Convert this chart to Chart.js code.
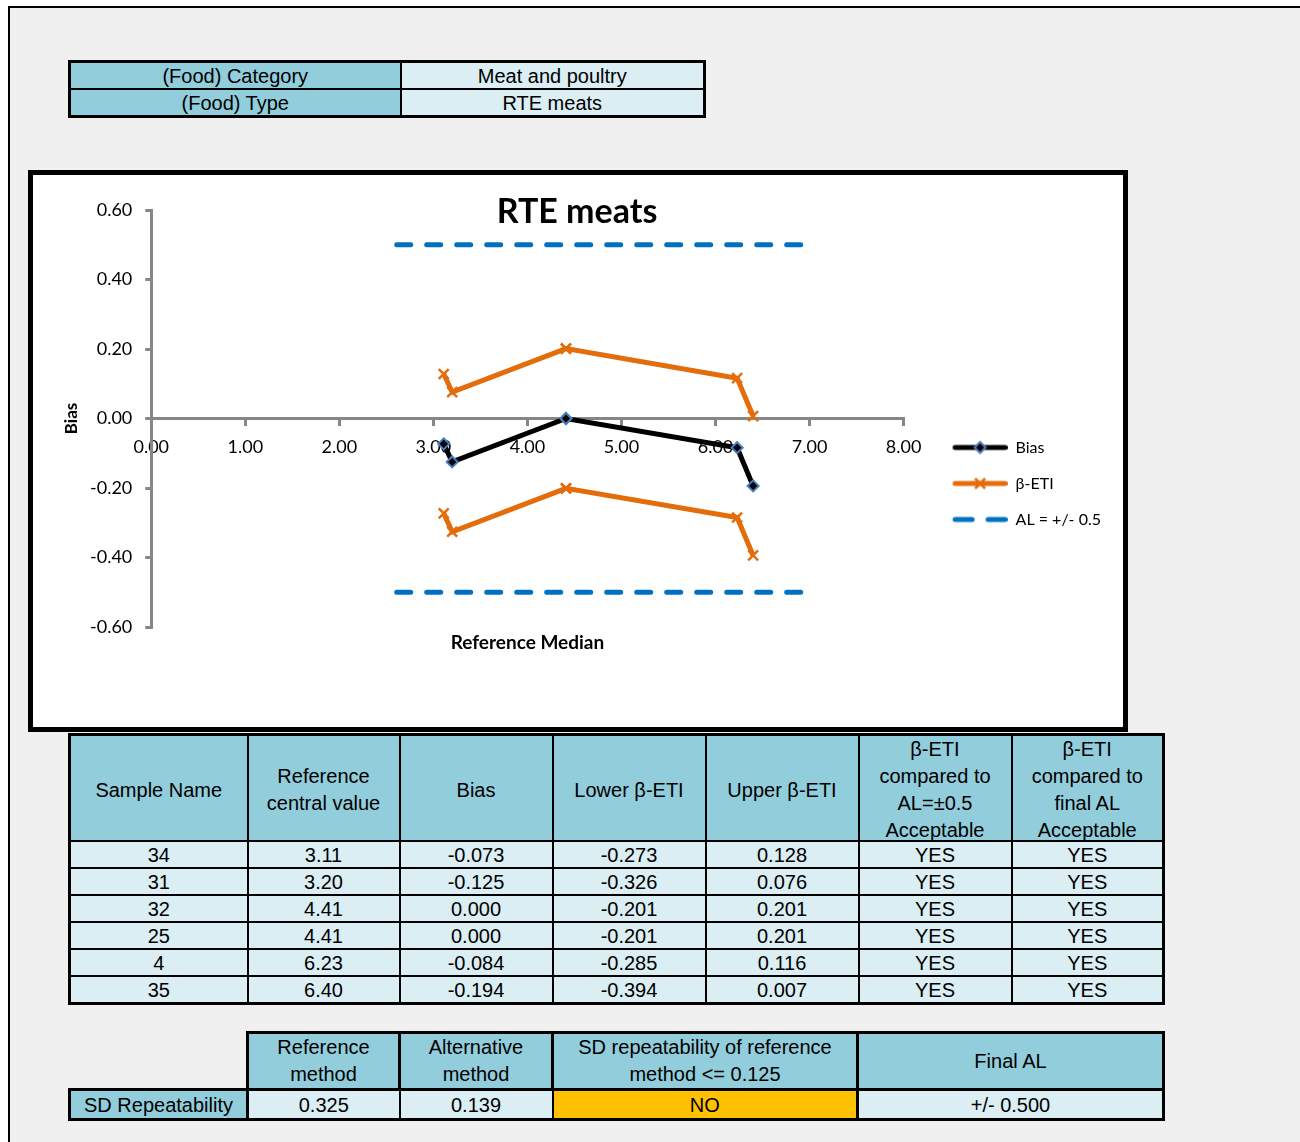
<!DOCTYPE html>
<html><head><meta charset="utf-8">
<script src="https://cdn.jsdelivr.net/npm/chart.js@4.4.1/dist/chart.umd.min.js"></script>
<style>
html,body{margin:0;padding:0;background:#fff;width:1300px;height:1142px;overflow:hidden;position:relative;font-family:"Liberation Sans",Arial,sans-serif;}
#frame{position:absolute;left:8px;top:6px;width:1300px;height:1200px;border-top:2px solid #000;border-left:2px solid #000;background:#f0f0f0;}
table{position:absolute;border-collapse:collapse;table-layout:fixed;font-size:20px;color:#000;border:3px solid #000;}
td{border:2px solid #000;text-align:center;padding:0;overflow:hidden;white-space:nowrap;line-height:22px;}
td.h{background:#92CDDC;}
td.c{background:#DAEEF3;}
td.o{background:#FFC000;}
td.e{background:transparent;border:none;}
td.w{line-height:27px;}
.hd{height:104px;display:flex;align-items:center;justify-content:center;line-height:27px;}
.hd > div{position:relative;top:2px;}
#chartBox{position:absolute;left:28px;top:170px;width:1100px;height:562px;box-sizing:border-box;border:5px solid #000;background:#fff;}
#chartWrap{position:absolute;left:0;top:0;width:1090px;height:552px;}
</style>
</head><body>
<div id="frame"></div>

<table id="infoTable" style="left:68px;top:60px;width:635px;">
<colgroup><col style="width:331px"><col style="width:304px"></colgroup>
<tbody id="infoBody"></tbody>
</table>

<div id="chartBox"><div id="chartWrap"><canvas id="chart"></canvas></div></div>

<table id="dataTable" style="left:68px;top:733px;width:1094px;">
<colgroup><col style="width:178px"><col style="width:152px"><col style="width:153px"><col style="width:153px"><col style="width:153px"><col style="width:153px"><col style="width:152px"></colgroup>
<tbody id="dataBody"></tbody>
</table>

<table id="sdTable" style="left:68px;top:1031px;width:1094px;border:none;">
<colgroup><col style="width:178px"><col style="width:152px"><col style="width:153px"><col style="width:305px"><col style="width:306px"></colgroup>
<tbody id="sdBody"></tbody>
</table>

<script>
// ---------------- data ----------------
const foodCategory = 'Meat and poultry';
const foodType = 'RTE meats';
const sampleNames = ['34', '31', '32', '25', '4', '35'];
const refValues = [3.11, 3.20, 4.41, 4.41, 6.23, 6.40];
const bias = [-0.073, -0.125, 0.000, 0.000, -0.084, -0.194];
const lowerETI = [-0.273, -0.326, -0.201, -0.201, -0.285, -0.394];
const upperETI = [0.128, 0.076, 0.201, 0.201, 0.116, 0.007];
const acceptAL = ['YES', 'YES', 'YES', 'YES', 'YES', 'YES'];
const acceptFinal = ['YES', 'YES', 'YES', 'YES', 'YES', 'YES'];
const alX = [2.61, 6.93];
const alUpper = [0.5, 0.5];
const alLower = [-0.5, -0.5];
const xRange = [0, 8];
const yRange = [-0.6, 0.6];
const headers = ['Sample Name', 'Reference<br>central value', 'Bias', 'Lower β-ETI', 'Upper β-ETI',
  'β-ETI<br>compared to<br>AL=±0.5<br>Acceptable', 'β-ETI<br>compared to<br>final AL<br>Acceptable'];
const sdHeaders = ['Reference<br>method', 'Alternative<br>method', 'SD repeatability of reference<br>method &lt;= 0.125', 'Final AL'];
const sdRow = ['SD Repeatability', '0.325', '0.139', 'NO', '+/- 0.500'];

// ---------------- tables ----------------
document.getElementById('infoBody').innerHTML =
  `<tr><td class="h" style="height:25px">(Food) Category</td><td class="c">${foodCategory}</td></tr>` +
  `<tr><td class="h" style="height:25px">(Food) Type</td><td class="c">${foodType}</td></tr>`;

let html = '<tr>' + headers.map(h => `<td class="h"><div class="hd"><div>${h}</div></div></td>`).join('') + '</tr>';
for (let i = 0; i < sampleNames.length; i++) {
  html += `<tr><td class="c" style="height:25px">${sampleNames[i]}</td><td class="c">${refValues[i].toFixed(2)}</td>` +
    `<td class="c">${bias[i].toFixed(3)}</td><td class="c">${lowerETI[i].toFixed(3)}</td>` +
    `<td class="c">${upperETI[i].toFixed(3)}</td><td class="c">${acceptAL[i]}</td><td class="c">${acceptFinal[i]}</td></tr>`;
}
document.getElementById('dataBody').innerHTML = html;

document.getElementById('sdBody').innerHTML =
  '<tr><td class="e" style="height:54px"></td>' +
  sdHeaders.map(h => `<td class="h w" style="border:3px solid #000">${h}</td>`).join('') + '</tr>' +
  `<tr><td class="h" style="height:27px;border:3px solid #000">${sdRow[0]}</td><td class="c" style="border-bottom:3px solid #000">${sdRow[1]}</td>` +
  `<td class="c" style="border-bottom:3px solid #000">${sdRow[2]}</td><td class="o" style="border-bottom:3px solid #000">${sdRow[3]}</td>` +
  `<td class="c" style="border:3px solid #000">${sdRow[4]}</td></tr>`;

// ---------------- chart ----------------
const BLACK = '#000000', ORANGE = '#E46C0A', BLUE = '#0070C0', MARKER_BLUE = '#4A7EBB', AXIS = '#868686';
const SW = 84; // legend swatch width

function swatch(kind) {
  const c = document.createElement('canvas');
  c.width = SW; c.height = 16;
  const g = c.getContext('2d');
  g.lineCap = 'round';
  g.lineWidth = 5;
  const y = 8, x0 = 31.5, x1 = SW - 2.5, xm = (29 + SW) / 2;
  if (kind === 'al') {
    g.strokeStyle = BLUE;
    g.setLineDash([17, 16]);
    g.beginPath(); g.moveTo(x0, y); g.lineTo(x1, y); g.stroke();
    return c;
  }
  g.strokeStyle = kind === 'bias' ? BLACK : ORANGE;
  g.beginPath(); g.moveTo(x0, y); g.lineTo(x1, y); g.stroke();
  if (kind === 'bias') {
    g.lineWidth = 2; g.fillStyle = BLACK; g.strokeStyle = MARKER_BLUE;
    g.beginPath(); g.moveTo(xm, y - 5.5); g.lineTo(xm + 5.5, y); g.lineTo(xm, y + 5.5); g.lineTo(xm - 5.5, y); g.closePath();
    g.fill(); g.stroke();
  } else {
    g.lineWidth = 2.5; g.lineCap = 'butt';
    g.beginPath(); g.moveTo(xm - 5, y - 5); g.lineTo(xm + 5, y + 5); g.moveTo(xm + 5, y - 5); g.lineTo(xm - 5, y + 5); g.stroke();
  }
  return c;
}
const swatches = [swatch('bias'), swatch('eti'), swatch('al')];

const pts = (xs, ys) => xs.map((x, i) => ({x, y: ys[i]}));
const fmt = v => (Math.abs(v) < 1e-9 ? 0 : v).toFixed(2);

Chart.defaults.font.family = 'Lato';
Chart.defaults.color = '#000';

new Chart(document.getElementById('chart'), {
  type: 'scatter',
  data: {
    datasets: [
      {label: 'Bias', data: pts(refValues, bias), showLine: true, borderColor: BLACK, borderWidth: 5,
       pointStyle: 'rectRot', pointRadius: 5.5, pointBackgroundColor: BLACK, pointBorderColor: MARKER_BLUE, pointBorderWidth: 2,
       legendIdx: 0},
      {label: 'β-ETI', data: pts(refValues, upperETI), showLine: true, borderColor: ORANGE, borderWidth: 5,
       pointStyle: 'crossRot', pointRadius: 7, pointBorderColor: ORANGE, pointBorderWidth: 2.5, legendIdx: 1},
      {label: 'β-ETI lower', data: pts(refValues, lowerETI), showLine: true, borderColor: ORANGE, borderWidth: 5,
       pointStyle: 'crossRot', pointRadius: 7, pointBorderColor: ORANGE, pointBorderWidth: 2.5},
      {label: 'AL = +/- 0.5', data: pts(alX, alUpper), showLine: true, borderColor: BLUE, borderWidth: 5,
       borderDash: [14, 16], borderCapStyle: 'round', pointRadius: 0, legendIdx: 2},
      {label: 'AL lower', data: pts(alX, alLower), showLine: true, borderColor: BLUE, borderWidth: 5,
       borderDash: [14, 16], borderCapStyle: 'round', pointRadius: 0}
    ]
  },
  options: {
    responsive: true, maintainAspectRatio: false, animation: false, devicePixelRatio: 1,
    layout: {padding: {left: 10, right: 12, top: 8, bottom: 30}},
    scales: {
      x: {
        type: 'linear', min: xRange[0], max: xRange[1], position: {y: 0},
        ticks: {stepSize: 1, callback: fmt, padding: 12, font: {size: 18}, maxRotation: 0},
        grid: {drawOnChartArea: false, drawTicks: true, tickLength: 6, color: AXIS, lineWidth: 3},
        border: {display: true, color: AXIS, width: 3}
      },
      x2: {
        type: 'linear', min: xRange[0], max: xRange[1], position: 'bottom',
        ticks: {display: false}, grid: {display: false}, border: {display: false},
        title: {display: true, text: 'Reference Median', font: {size: 19, weight: 'bold'}, padding: {top: -3.4, bottom: 42.6}}
      },
      y: {
        type: 'linear', min: yRange[0], max: yRange[1], position: 'left',
        ticks: {stepSize: 0.2, callback: fmt, padding: 13, font: {size: 18}},
        grid: {drawOnChartArea: false, drawTicks: true, tickLength: 6, color: AXIS, lineWidth: 3},
        border: {display: true, color: AXIS, width: 3},
        title: {display: true, text: 'Bias', font: {size: 17, weight: 'bold'}, padding: {top: 18.8, bottom: -5.2}}
      }
    },
    plugins: {
      title: {display: true, text: 'RTE meats', font: {size: 34, weight: 'bold'}, color: '#000',
              padding: {top: 8.6, bottom: -22.4}},
      legend: {
        position: 'right', align: 'start',
        title: {display: true, text: '', font: {size: 10}, padding: {top: 0, bottom: 224.5}},
        labels: {
          usePointStyle: true, pointStyleWidth: SW, padding: 20, font: {size: 16}, color: '#000',
          generateLabels: chart => chart.data.datasets
            .map((ds, i) => ({ds, i}))
            .filter(o => o.ds.legendIdx !== undefined)
            .map(o => ({text: o.ds.label, datasetIndex: o.i, pointStyle: swatches[o.ds.legendIdx],
                        fillStyle: 'transparent', strokeStyle: 'transparent', lineWidth: 0, hidden: false, fontColor: '#000'}))
        }
      },
      tooltip: {enabled: false}
    }
  }
});
</script>
</body></html>
